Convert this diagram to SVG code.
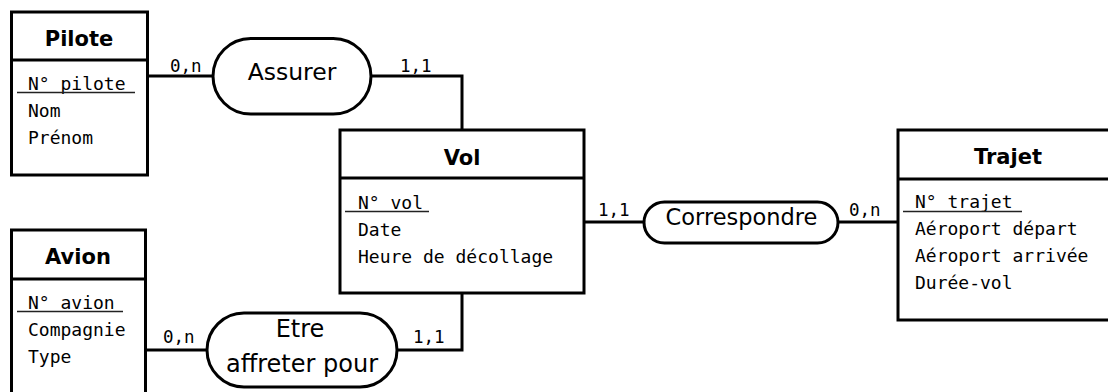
<svg xmlns="http://www.w3.org/2000/svg" width="1108" height="392" viewBox="0 0 1108 392">
<style>
.box{fill:#fff;stroke:#000;stroke-width:3}
.sep{stroke:#000;stroke-width:3}
.ul{stroke:#222;stroke-width:1.5}
.title{font-family:"DejaVu Sans",sans-serif;font-weight:bold;font-size:21px;text-anchor:middle;fill:#000}
.attr{font-family:"DejaVu Sans Mono",monospace;font-size:18px;fill:#000}
.card{font-family:"DejaVu Sans Mono",monospace;font-size:17.5px;fill:#000}
.rel{fill:#fff;stroke:#000;stroke-width:3}
.rtxt{font-family:"DejaVu Sans",sans-serif;font-size:23.5px;text-anchor:middle;fill:#000}
.conn{fill:none;stroke:#000;stroke-width:3}
</style>
<g id="connectors">
<path class="conn" d="M147,76 H213"/>
<path class="conn" d="M371,76 H462 V130"/>
<path class="conn" d="M584,222 H644"/>
<path class="conn" d="M838,222 H898"/>
<path class="conn" d="M145,350 H207"/>
<path class="conn" d="M397,350 H462 V293"/>
<text class="card" x="170" y="72">0,n</text>
<text class="card" x="400" y="72">1,1</text>
<text class="card" x="598" y="216">1,1</text>
<text class="card" x="849" y="216">0,n</text>
<text class="card" x="163" y="343">0,n</text>
<text class="card" x="413" y="343">1,1</text>
</g>
<g id="pilote">
<rect class="box" x="11.5" y="12" width="136" height="163"/>
<line class="sep" x1="11.5" y1="60" x2="147.5" y2="60"/>
<text class="title" x="79" y="46">Pilote</text>
<text class="attr" x="28" y="90">N° pilote</text>
<line class="ul" x1="17" y1="92.5" x2="135" y2="92.5"/>
<text class="attr" x="28" y="117">Nom</text>
<text class="attr" x="28" y="144">Prénom</text>
</g>
<g id="avion">
<rect class="box" x="11.5" y="230" width="134" height="170"/>
<line class="sep" x1="11.5" y1="279" x2="145.5" y2="279"/>
<text class="title" x="78" y="264">Avion</text>
<text class="attr" x="28" y="309">N° avion</text>
<line class="ul" x1="17" y1="311.5" x2="123" y2="311.5"/>
<text class="attr" x="28" y="336">Compagnie</text>
<text class="attr" x="28" y="363">Type</text>
</g>
<g id="vol">
<rect class="box" x="340" y="130" width="244" height="163"/>
<line class="sep" x1="340" y1="178" x2="584" y2="178"/>
<text class="title" x="462" y="165">Vol</text>
<text class="attr" x="358" y="209">N° vol</text>
<line class="ul" x1="345" y1="211.5" x2="429" y2="211.5"/>
<text class="attr" x="358" y="236">Date</text>
<text class="attr" x="358" y="263">Heure de décollage</text>
</g>
<g id="trajet">
<rect class="box" x="898" y="130" width="220" height="190"/>
<line class="sep" x1="898" y1="179" x2="1118" y2="179"/>
<text class="title" x="1008" y="164">Trajet</text>
<text class="attr" x="915" y="208">N° trajet</text>
<line class="ul" x1="903" y1="211.5" x2="1022" y2="211.5"/>
<text class="attr" x="915" y="235">Aéroport départ</text>
<text class="attr" x="915" y="262">Aéroport arrivée</text>
<text class="attr" x="915" y="289">Durée-vol</text>
</g>
<g id="assurer">
<rect class="rel" x="213" y="38.5" width="158" height="75.5" rx="37.75"/>
<text class="rtxt" x="292" y="80">Assurer</text>
</g>
<g id="correspondre">
<rect class="rel" x="644" y="202" width="194" height="41" rx="20.5"/>
<text class="rtxt" x="741.5" y="225" style="font-size:22.5px">Correspondre</text>
</g>
<g id="etre">
<rect class="rel" x="207" y="313" width="190" height="74" rx="37"/>
<text class="rtxt" x="300" y="337" style="font-size:24px">Etre</text>
<text class="rtxt" x="302" y="372" style="font-size:24px">affreter pour</text>
</g>
</svg>
